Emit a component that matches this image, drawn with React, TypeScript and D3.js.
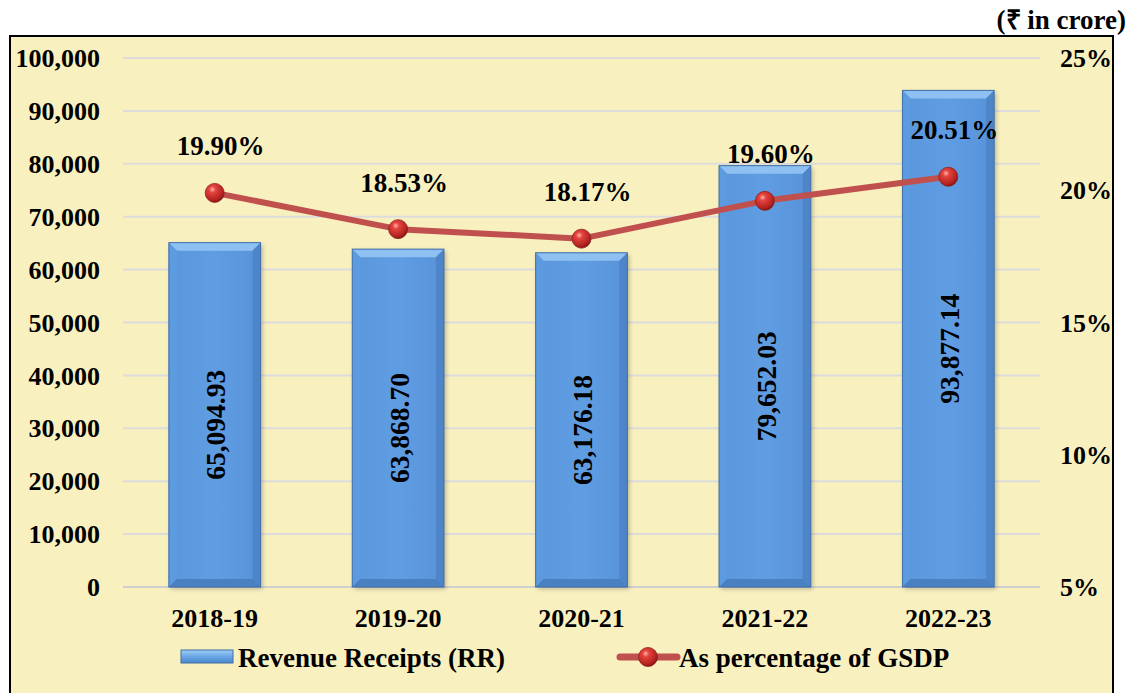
import React from "react";
import * as d3 from "d3";

const years = ["2018-19", "2019-20", "2020-21", "2021-22", "2022-23"];
const revenueReceipts = [65094.93, 63868.7, 63176.18, 79652.03, 93877.14];
const pctGSDP = [19.9, 18.53, 18.17, 19.6, 20.51];
const leftTicks = [0, 10000, 20000, 30000, 40000, 50000, 60000, 70000, 80000, 90000, 100000];
const rightTicks = [5, 10, 15, 20, 25];

const W = 1137;
const H = 693;
const plotL = 123;
const plotR = 1040;
const plotT = 58;
const plotB = 587;
const FONT = "'Liberation Serif', 'Times New Roman', serif";

export default function App() {
  const x = d3.scaleBand<string>().domain(years).range([plotL, plotR]).paddingInner(0.5).paddingOuter(0.25);
  const yL = d3.scaleLinear().domain([0, 100000]).range([plotB, plotT]);
  const yR = d3.scaleLinear().domain([5, 25]).range([plotB, plotT]);
  const fmtL = d3.format(",");
  const fmtV = d3.format(",.2f");
  const bw = x.bandwidth();
  const cx = (d: string) => (x(d) as number) + bw / 2;
  const line = d3
    .line<number>()
    .x((_, i) => cx(years[i]))
    .y((d) => yR(d));
  const bev = 8;

  return (
    <svg width={W} height={H} style={{ position: "absolute", left: 0, top: 0 }} fontFamily={FONT}>
      <defs>
        <linearGradient id="barG" x1="0" x2="1" y1="0" y2="0">
          <stop offset="0" stopColor="#5a96da" />
          <stop offset="0.5" stopColor="#5f9de3" />
          <stop offset="1" stopColor="#5892d8" />
        </linearGradient>
        <radialGradient id="ball" cx="0.38" cy="0.32" r="0.7">
          <stop offset="0" stopColor="#ffb0a8" />
          <stop offset="0.25" stopColor="#e4433d" />
          <stop offset="0.8" stopColor="#b3221f" />
          <stop offset="1" stopColor="#7e1414" />
        </radialGradient>
        <linearGradient id="legBar" x1="0" x2="0" y1="0" y2="1">
          <stop offset="0" stopColor="#9fcdf5" />
          <stop offset="0.5" stopColor="#6aa7e6" />
          <stop offset="1" stopColor="#4a86cc" />
        </linearGradient>
        <filter id="shadow" x="-20%" y="-20%" width="140%" height="140%">
          <feDropShadow dx="2" dy="2" stdDeviation="2" floodColor="#000" floodOpacity="0.25" />
        </filter>
      </defs>
      <rect x={0} y={0} width={W} height={H} fill="#ffffff" />
      <rect x={10} y={36} width={1103} height={H} fill="#f9f0bf" stroke="#000" strokeWidth={2} />
      <text x={1126} y={29} textAnchor="end" fontSize={27} fontWeight="bold" fill="#000">
        (₹ in crore)
      </text>

      {leftTicks.map((t) => (
        <line key={t} x1={plotL} x2={plotR} y1={yL(t)} y2={yL(t)} stroke={t === 0 ? "#cfcfcf" : "#dcdcdc"} strokeWidth={2} />
      ))}

      {leftTicks.map((t) => (
        <text key={"l" + t} x={100} y={yL(t)} dy="0.35em" textAnchor="end" fontSize={26} fontWeight="bold">
          {fmtL(t)}
        </text>
      ))}
      {rightTicks.map((t) => (
        <text key={"r" + t} x={1060} y={yR(t)} dy="0.35em" textAnchor="start" fontSize={26} fontWeight="bold">
          {t + "%"}
        </text>
      ))}

      {years.map((yr, i) => {
        const x0 = x(yr) as number;
        const x1 = x0 + bw;
        const yt = yL(revenueReceipts[i]);
        const yb = yL(0);
        return (
          <g key={yr}>
            <rect x={x0} y={yt} width={bw} height={yb - yt} fill="url(#barG)" filter="url(#shadow)" />
            <polygon points={`${x0},${yt} ${x1},${yt} ${x1 - bev},${yt + bev} ${x0 + bev},${yt + bev}`} fill="#8ec0f2" />
            <polygon points={`${x0},${yt} ${x0 + bev},${yt + bev} ${x0 + bev},${yb - bev} ${x0},${yb}`} fill="#5d9be0" opacity={0.9} />
            <polygon points={`${x1},${yt} ${x1 - bev},${yt + bev} ${x1 - bev},${yb - bev} ${x1},${yb}`} fill="#4d85c8" />
            <polygon points={`${x0},${yb} ${x0 + bev},${yb - bev} ${x1 - bev},${yb - bev} ${x1},${yb}`} fill="#4a80c0" />
            <rect x={x0} y={yt} width={bw} height={yb - yt} fill="none" stroke="#3f6fa8" strokeWidth={1} />
            <text
              transform={`translate(${cx(yr) + 1},${(yt + yb) / 2 + 10}) rotate(-90)`}
              textAnchor="middle"
              dy="0.35em"
              fontSize={27.5}
              fontWeight="bold"
            >
              {fmtV(revenueReceipts[i])}
            </text>
          </g>
        );
      })}

      <path d={line(pctGSDP) || ""} fill="none" stroke="#c0504d" strokeWidth={6} strokeLinejoin="round" />
      {pctGSDP.map((p, i) => (
        <g key={"p" + i}>
          <circle cx={cx(years[i])} cy={yR(p)} r={9.5} fill="url(#ball)" stroke="#8f2220" strokeWidth={0.8} />
          <text x={cx(years[i]) + 6} y={yR(p) - 47} dy="0.35em" textAnchor="middle" fontSize={27} fontWeight="bold">
            {p.toFixed(2) + "%"}
          </text>
        </g>
      ))}

      {years.map((yr) => (
        <text key={"x" + yr} x={cx(yr)} y={618} dy="0.35em" textAnchor="middle" fontSize={26} fontWeight="bold">
          {yr}
        </text>
      ))}

      <g>
        <rect x={181} y={650} width={52} height={13} fill="url(#legBar)" stroke="#3f6fa8" strokeWidth={1} />
        <text x={238} y={658} dy="0.35em" fontSize={27} fontWeight="bold">
          Revenue Receipts (RR)
        </text>
        <line x1={620} x2={677} y1={657} y2={657} stroke="#c0504d" strokeWidth={7} strokeLinecap="round" />
        <circle cx={648} cy={657} r={9.5} fill="url(#ball)" stroke="#8f2220" strokeWidth={0.8} />
        <text x={679} y={658} dy="0.35em" fontSize={27} fontWeight="bold">
          As percentage of GSDP
        </text>
      </g>
    </svg>
  );
}
